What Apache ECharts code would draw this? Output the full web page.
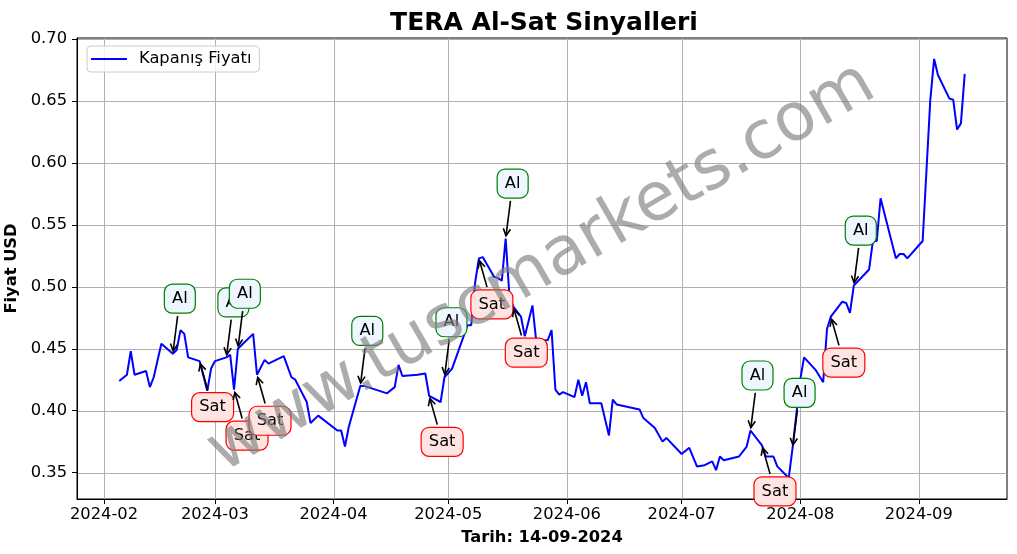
<!DOCTYPE html>
<html><head><meta charset="utf-8">
<script src="https://cdn.jsdelivr.net/npm/echarts@6/dist/echarts.min.js"></script>
<style>html,body{margin:0;padding:0;background:#fff}#c{width:1017px;height:554px}</style>
</head><body><div id="c"></div>
<script>
// ---- data ----
const dates = [
 '2024-02-05','2024-02-07','2024-02-08','2024-02-09','2024-02-12','2024-02-13','2024-02-14','2024-02-16',
 '2024-02-19','2024-02-20','2024-02-21','2024-02-22','2024-02-23','2024-02-26','2024-02-28','2024-02-29',
 '2024-03-01','2024-03-04','2024-03-05','2024-03-06','2024-03-07','2024-03-11','2024-03-12','2024-03-14',
 '2024-03-15','2024-03-19','2024-03-21','2024-03-22','2024-03-25','2024-03-26','2024-03-28',
 '2024-04-02','2024-04-03','2024-04-04','2024-04-05','2024-04-08','2024-04-09','2024-04-13','2024-04-15',
 '2024-04-17','2024-04-18','2024-04-19','2024-04-23','2024-04-25','2024-04-26','2024-04-29','2024-04-30',
 '2024-05-02','2024-05-05','2024-05-06','2024-05-07','2024-05-08','2024-05-09','2024-05-10','2024-05-13',
 '2024-05-14','2024-05-15','2024-05-16','2024-05-17','2024-05-18','2024-05-20','2024-05-21','2024-05-23',
 '2024-05-24','2024-05-27','2024-05-28','2024-05-29','2024-05-30','2024-05-31',
 '2024-06-03','2024-06-04','2024-06-05','2024-06-06','2024-06-07','2024-06-10','2024-06-12','2024-06-13',
 '2024-06-14','2024-06-20','2024-06-21','2024-06-24','2024-06-26','2024-06-27',
 '2024-07-01','2024-07-03','2024-07-05','2024-07-07','2024-07-09','2024-07-10','2024-07-11','2024-07-12',
 '2024-07-16','2024-07-18','2024-07-19','2024-07-22','2024-07-23','2024-07-25','2024-07-26','2024-07-29',
 '2024-07-30','2024-08-01','2024-08-02','2024-08-05','2024-08-07','2024-08-08','2024-08-09','2024-08-12',
 '2024-08-13','2024-08-14','2024-08-15','2024-08-19','2024-08-20','2024-08-21','2024-08-22','2024-08-26',
 '2024-08-27','2024-08-28','2024-08-29','2024-09-02','2024-09-04','2024-09-05','2024-09-06','2024-09-09',
 '2024-09-10','2024-09-11','2024-09-12','2024-09-13'
];
const closes = [
 0.424,0.429,0.448,0.429,0.432,0.419,0.427,0.454,
 0.446,0.449,0.465,0.462,0.443,0.440,0.416,0.434,
 0.440,0.443,0.445,0.417,0.450,0.462,0.429,0.441,
 0.438,0.444,0.427,0.425,0.407,0.390,0.396,
 0.384,0.384,0.371,0.387,0.420,0.420,0.416,0.414,
 0.419,0.437,0.428,0.429,0.430,0.412,0.407,0.427,
 0.434,0.460,0.469,0.469,0.503,0.523,0.524,0.508,
 0.507,0.505,0.539,0.492,0.484,0.476,0.460,0.485,
 0.456,0.457,0.465,0.417,0.413,0.415,
 0.411,0.425,0.412,0.423,0.406,0.406,0.380,0.409,
 0.405,0.401,0.394,0.386,0.375,0.378,
 0.365,0.370,0.355,0.356,0.359,0.352,0.363,0.360,
 0.363,0.371,0.384,0.372,0.363,0.363,0.355,0.3456,
 0.370,0.425,0.443,0.433,0.423,0.466,0.476,0.488,
 0.487,0.479,0.501,0.514,0.537,0.537,0.5715,0.523,
 0.5265,0.5265,0.523,0.537,0.651,0.684,0.671,0.652,
 0.651,0.627,0.632,0.672
];
const alDates  = ['2024-02-19','2024-03-04','2024-03-07','2024-04-08','2024-04-30','2024-05-16','2024-07-19','2024-07-30','2024-08-15'];
const satDates = ['2024-02-26','2024-03-06','2024-03-12','2024-04-26','2024-05-09','2024-05-18','2024-07-22','2024-08-09'];
const yTicks = [0.35,0.40,0.45,0.50,0.55,0.60,0.65,0.70];
const xTicks = ['2024-02-01','2024-03-01','2024-04-01','2024-05-01','2024-06-01','2024-07-01','2024-08-01','2024-09-01'];
const xTickLabels = ['2024-02','2024-03','2024-04','2024-05','2024-06','2024-07','2024-08','2024-09'];

// ---- build ----
function ts(s){const [y,m,d]=s.split('-').map(Number);return new Date(y,m-1,d).getTime();}
const FONT='DejaVu Sans';
const lineData = dates.map((d,i)=>[ts(d),closes[i]]);
const valueOf = d => closes[dates.indexOf(d)];
const signals = alDates.map(d=>[ts(d),valueOf(d),0]).concat(satDates.map(d=>[ts(d),valueOf(d),1]))
  .sort((a,b)=>a[0]-b[0]);
const t0=lineData[0][0], t1=lineData[lineData.length-1][0];
const vMin=Math.min(...closes), vMax=Math.max(...closes);
const xMin=t0-0.05*(t1-t0), xMax=t1+0.05*(t1-t0);
const yMin=vMin-0.05*(vMax-vMin), yMax=vMax+0.05*(vMax-vMin);
const xTickTs = xTicks.map(ts);

const G={left:77,right:10,top:38,bottom:55};
const W=1017,H=554;
const GRID_COLOR='#b0b0b0';

function renderVGrid(params, api){
  const cs = params.coordSys;
  const x = Math.round(api.coord([api.value(0), yMin])[0]) + 0.5;
  return {type:'line', shape:{x1:x,y1:cs.y,x2:x,y2:cs.y+cs.height}, style:{stroke:GRID_COLOR,lineWidth:1}};
}
function renderHGrid(params, api){
  const cs = params.coordSys;
  const y = Math.round(api.coord([xMin, api.value(1)])[1]) + 0.5;
  return {type:'line', shape:{x1:cs.x,y1:y,x2:cs.x+cs.width,y2:y}, style:{stroke:GRID_COLOR,lineWidth:1}};
}

function renderSignal(params, api){
  const p = api.coord([api.value(0), api.value(1)]);
  const isAl = api.value(2) === 0;
  const label = isAl ? 'Al' : 'Sat';
  const off = isAl ? [7,-55] : [13,46];
  const w = isAl ? 31 : 42, h = 29;
  const cx = p[0]+off[0], cy = p[1]+off[1];
  let dx = p[0]-cx, dy = p[1]-cy; const L = Math.hypot(dx,dy); dx/=L; dy/=L;
  const te = Math.min(w/2/Math.max(Math.abs(dx),1e-9), h/2/Math.max(Math.abs(dy),1e-9));
  const sx = cx+dx*(te+2.8), sy = cy+dy*(te+2.8);
  const ex = p[0]-dx*2.8, ey = p[1]-dy*2.8;
  const hl=7, hw=3.6;
  const bx=ex-dx*hl, by=ey-dy*hl, nx=-dy, ny=dx;
  return {type:'group', children:[
    {type:'line', shape:{x1:sx,y1:sy,x2:ex,y2:ey}, style:{stroke:'#000',lineWidth:1.6}},
    {type:'polyline', shape:{points:[[bx+nx*hw,by+ny*hw],[ex,ey],[bx-nx*hw,by-ny*hw]]}, style:{stroke:'#000',lineWidth:1.6,fill:null}},
    {type:'rect', shape:{x:cx-w/2,y:cy-h/2,width:w,height:h,r:8}, style:{fill:isAl?'#eef6ff':'#ffe4e1', stroke:isAl?'#008000':'#ff0000', lineWidth:1.2}},
    {type:'text', style:{text:label, x:cx, y:cy, align:'center', verticalAlign:'middle', fontSize:16.3, fontFamily:FONT, fill:'#000'}}
  ]};
}

const chart = echarts.init(document.getElementById('c'), null, {renderer:'canvas'});
const plotCx = G.left + (W-G.left-G.right)/2, plotCy = G.top + (H-G.top-G.bottom)/2;
chart.setOption({
  animation:false,
  backgroundColor:'#fff',
  title:{text:'TERA Al-Sat Sinyalleri', left:plotCx-3, textAlign:'center', top:6,
    textStyle:{fontFamily:FONT, fontSize:25, fontWeight:'bold', color:'#000'}},
  grid:{left:G.left,right:G.right,top:G.top,bottom:G.bottom,containLabel:false,outerBoundsMode:'none',
    show:true,borderColor:'#000',borderWidth:1,backgroundColor:'transparent'},
  legend:{data:[{name:'Kapanış Fiyatı', icon:'rect'}], left:87, top:46, orient:'vertical',
    itemWidth:36, itemHeight:2, padding:[5,8,5,4], borderColor:'#cccccc', borderWidth:1, borderRadius:4,
    backgroundColor:'rgba(255,255,255,0.8)',
    textStyle:{fontFamily:FONT, fontSize:16.3, color:'#000', padding:[0,0,0,7]}},
  xAxis:{type:'value', min:xMin, max:xMax,
    name:'Tarih: 14-09-2024', nameLocation:'middle', nameGap:31,
    nameTextStyle:{fontFamily:FONT, fontSize:16.3, fontWeight:'bold', color:'#000'},
    axisLine:{show:true, lineStyle:{color:'#000', width:1}},
    axisTick:{show:true, customValues:xTickTs, length:5, lineStyle:{color:'#000', width:1}},
    axisLabel:{customValues:xTickTs, margin:8, fontFamily:FONT, fontSize:16.3, color:'#000',
      formatter:(v)=>{const i=xTickTs.indexOf(v); return i>=0?xTickLabels[i]:'';}},
    splitLine:{show:false}},
  yAxis:{type:'value', min:yMin, max:yMax, scale:true,
    name:'Fiyat USD', nameLocation:'middle', nameGap:42, nameRotate:90,
    nameTextStyle:{fontFamily:FONT, fontSize:16.3, fontWeight:'bold', color:'#000'},
    axisLine:{show:true, lineStyle:{color:'#000', width:1}},
    axisTick:{show:true, customValues:yTicks, length:5, lineStyle:{color:'#000', width:1}},
    axisLabel:{customValues:yTicks, margin:10, fontFamily:FONT, fontSize:16.3, color:'#000',
      formatter:(v)=>v.toFixed(2)},
    splitLine:{show:false}},
  series:[
    {type:'custom', name:'vgrid', renderItem:renderVGrid, data:xTickTs.map(t=>[t,yMin]), silent:true, z:0, encode:{x:0,y:1}},
    {type:'custom', name:'hgrid', renderItem:renderHGrid, data:yTicks.map(v=>[xMin,v]), silent:true, z:0, encode:{x:0,y:1}},
    {type:'line', name:'Kapanış Fiyatı', data:lineData, showSymbol:false, symbol:'none',
      lineStyle:{color:'#0000ff', width:2}, itemStyle:{color:'#0000ff'}, z:2},
    {type:'custom', name:'signals', renderItem:renderSignal, data:signals, clip:false, silent:true, z:3,
      encode:{x:0,y:1}}
  ],
  graphic:[{type:'text', x:plotCx, y:plotCy, rotation:Math.PI/6, z:100, silent:true,
    style:{text:'www.tuscmarkets.com', fontFamily:FONT, fontSize:67, fill:'rgba(128,128,128,0.65)', align:'center', verticalAlign:'middle'}}]
});
</script>
</body></html>
